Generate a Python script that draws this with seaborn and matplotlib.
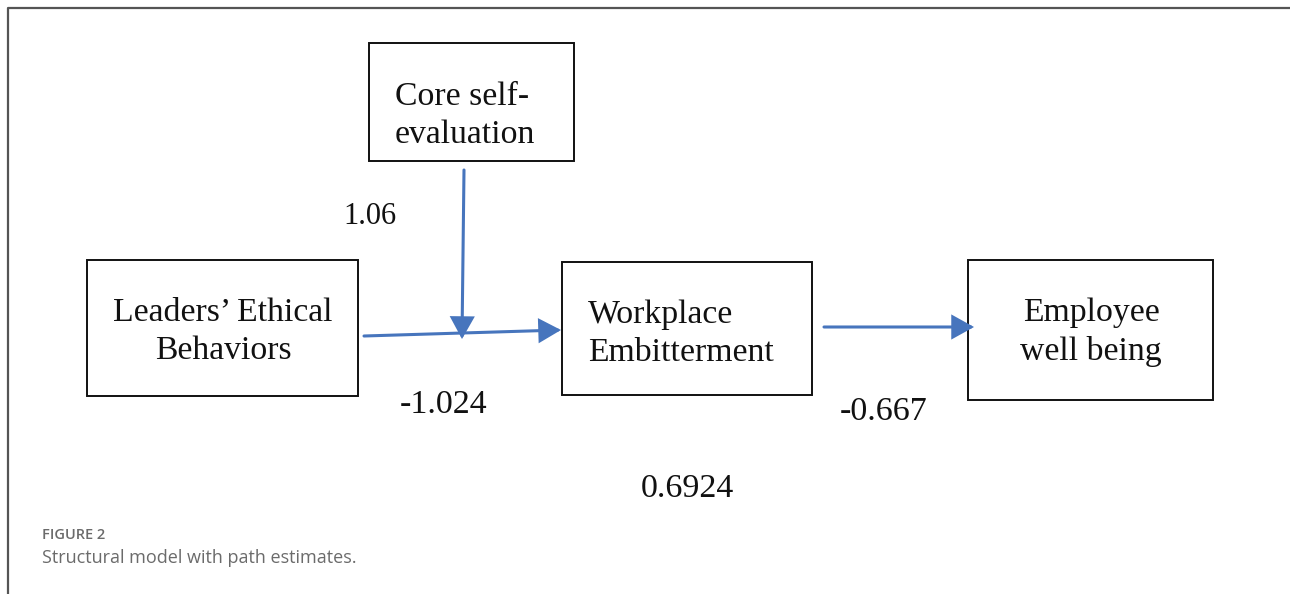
import matplotlib
matplotlib.use("Agg")
import matplotlib.pyplot as plt
import seaborn as sns
from matplotlib.patches import Rectangle

# ---- content ----
node_labels = ["Core self-\nevaluation", "Leaders’ Ethical\nBehaviors",
               "Workplace\nEmbitterment", "Employee\nwell being"]
path_estimates = ["1.06", "-1.024", "-0.667", "0.6924"]
caption_title = "FIGURE 2"
caption_text = "Structural model with path estimates."

sns.set_theme(style="white")
plt.rcParams['font.family'] = ['Liberation Serif', 'DejaVu Serif']

W, H = 1290, 594
fig = plt.figure(figsize=(W / 100, H / 100), dpi=100)
ax = fig.add_axes([0, 0, 1, 1])
ax.set_xlim(0, W)
ax.set_ylim(H, 0)
ax.axis("off")

# outer frame (left and top)
ax.plot([7.5, 7.5, W], [H, 7.5, 7.5], color="#555555", lw=1.6, solid_capstyle="butt")

# boxes: (x0, y0, x1, y1), text anchor, alignment
boxes = [
    ((369, 43, 574, 161), (395, 116), "left"),
    ((87, 260, 358, 396), (223, 332), "center"),
    ((562, 262, 812, 395), (588, 334), "left"),
    ((968, 260, 1213, 400), (1091, 332), "center"),
]

for lab, ((x0, y0, x1, y1), (tx, ty), ha) in zip(node_labels, boxes):
    ax.add_patch(Rectangle((x0, y0), x1 - x0, y1 - y0, fill=False,
                           edgecolor="#111111", lw=1.4))
    ax.text(tx, ty, lab, ha=ha, va="center", fontsize=24.3, color="#111111",
            linespacing=1.32)

blue = "#4775bd"
arrows = [((464, 170), (462, 339)),
          ((364, 336), (561, 330)),
          ((824, 327), (974, 327))]
for (xa, ya), (xb, yb) in arrows:
    ax.annotate("", xy=(xb, yb), xytext=(xa, ya),
                arrowprops=dict(arrowstyle="-|>,head_length=0.65,head_width=0.36",
                                mutation_scale=20, color=blue, lw=2.2,
                                shrinkA=0, shrinkB=0, joinstyle="miter"))

est_pos = [(370, 217), (444, 405), (884, 412), (687, 489)]
est_size = [22, 24.5, 24.5, 24.5]
for s, (x, y), fs in zip(path_estimates, est_pos, est_size):
    ax.text(x, y, s, ha="center", va="center", fontsize=fs, color="#111111")

ax.text(42, 535, caption_title, ha="left", va="center", fontsize=10.5,
        color="#6b6b6b", family=["Open Sans", "DejaVu Sans"], fontweight="semibold")
ax.text(42, 558, caption_text, ha="left", va="center", fontsize=13,
        color="#6b6b6b", family=["Open Sans", "DejaVu Sans"])

fig.savefig("out.png", dpi=100, facecolor="white")
